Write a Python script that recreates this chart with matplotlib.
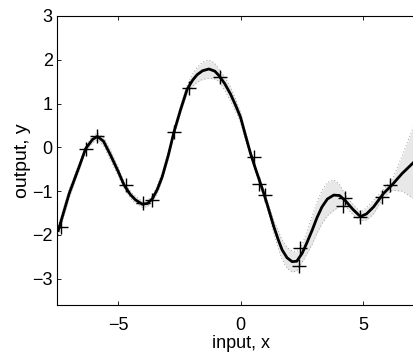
import matplotlib
matplotlib.use('Agg')
import matplotlib.pyplot as plt
import numpy as np

plt.rcParams['font.family'] = ['Liberation Sans', 'DejaVu Sans']

# observed data points (+ markers)
obs_x = [-7.35, -6.33, -5.85, -4.69, -3.99, -3.63, -2.72, -2.11, -0.84,
         0.54, 0.75, 1.02, 2.45, 2.38, 4.29, 4.2, 4.9, 5.78, 6.12]
obs_y = [-1.81, -0.03, 0.27, -0.86, -1.28, -1.2, 0.35, 1.36, 1.61,
         -0.22, -0.84, -1.09, -2.3, -2.72, -1.15, -1.33, -1.58, -1.13, -0.86]

# predictive mean
mean_x = [-7.45, -7.0, -6.6, -6.33, -6.05, -5.85, -5.6, -5.31, -5.0, -4.76,
          -4.5, -4.29, -4.01, -3.8, -3.6, -3.4, -3.2, -2.95, -2.72, -2.45,
          -2.18, -1.95, -1.77, -1.55, -1.29, -1.05, -0.88, -0.65, -0.41, -0.2,
          0.0, 0.2, 0.41, 0.62, 0.82, 0.95, 1.09, 1.36, 1.55, 1.7,
          1.9, 2.11, 2.3, 2.52, 2.72, 2.93, 3.13, 3.33, 3.55, 3.81,
          4.05, 4.29, 4.6, 4.9, 5.15, 5.44, 5.65, 5.85, 6.19, 6.6, 7.1, 7.5]
mean_y = [-1.9, -1.05, -0.45, -0.03, 0.18, 0.25, 0.14, -0.18, -0.55, -0.86,
          -1.08, -1.2, -1.3, -1.28, -1.17, -0.96, -0.67, -0.18, 0.35, 0.86,
          1.33, 1.54, 1.66, 1.75, 1.79, 1.74, 1.64, 1.46, 1.22, 0.96,
          0.69, 0.28, -0.14, -0.5, -0.83, -1.05, -1.3, -1.81, -2.12, -2.34,
          -2.52, -2.61, -2.6, -2.42, -2.17, -1.89, -1.6, -1.36, -1.18, -1.09,
          -1.1, -1.22, -1.42, -1.58, -1.52, -1.36, -1.2, -1.05, -0.86, -0.6, -0.33, -0.2]
# half width of the grey confidence band at each mean point
band_w = [0.1, 0.1, 0.08, 0.06, 0.07, 0.08, 0.1, 0.12, 0.1, 0.07,
          0.08, 0.08, 0.07, 0.07, 0.07, 0.09, 0.09, 0.08, 0.07, 0.08,
          0.09, 0.14, 0.17, 0.2, 0.21, 0.18, 0.14, 0.15, 0.16, 0.14,
          0.12, 0.1, 0.08, 0.07, 0.07, 0.07, 0.08, 0.15, 0.2, 0.22,
          0.24, 0.24, 0.22, 0.2, 0.26, 0.32, 0.36, 0.38, 0.38, 0.35,
          0.25, 0.13, 0.12, 0.1, 0.14, 0.16, 0.12, 0.1, 0.12, 0.4, 0.85, 1.1]

mx = np.array(mean_x)
my = np.array(mean_y)
bw = np.array(band_w)

fig = plt.figure(figsize=(4.14, 3.52), dpi=100)
ax = fig.add_axes([57/414, 47/352, 367/414, 289/352])

ax.fill_between(mx, my - bw, my + bw, color='#e8e8e8', lw=0, zorder=1)
ax.plot(mx, my + bw, color='#8a8a8a', lw=0.6, ls=(0, (1, 3)), zorder=2)
ax.plot(mx, my - bw, color='#8a8a8a', lw=0.6, ls=(0, (1, 3)), zorder=2)
ax.plot(mx, my, color='black', lw=2.0, zorder=3)
ax.plot(obs_x, obs_y, ls='none', marker='+', ms=10, mew=1.0, color='black', zorder=4)

ax.set_xlim(-7.5, 7.5)
ax.set_ylim(-3.6, 3)
ax.set_xticks([-5, 0, 5])
ax.set_yticks([-3, -2, -1, 0, 1, 2, 3])
ax.set_xticklabels(['\u22125', '0', '5'])
ax.set_yticklabels(['\u22123', '\u22122', '\u22121', '0', '1', '2', '3'])
ax.tick_params(direction='in', length=3, width=0.6, top=True, right=True,
               labelsize=13)
ax.tick_params(axis='x', pad=9)
ax.tick_params(axis='y', pad=3)
for sp in ax.spines.values():
    sp.set_linewidth(0.8)
ax.spines['right'].set_visible(False)

ax.set_xlabel('input, x', fontsize=13, labelpad=0)
ax.set_ylabel('output, y', fontsize=14, labelpad=1)

fig.savefig('out.png', dpi=100)
